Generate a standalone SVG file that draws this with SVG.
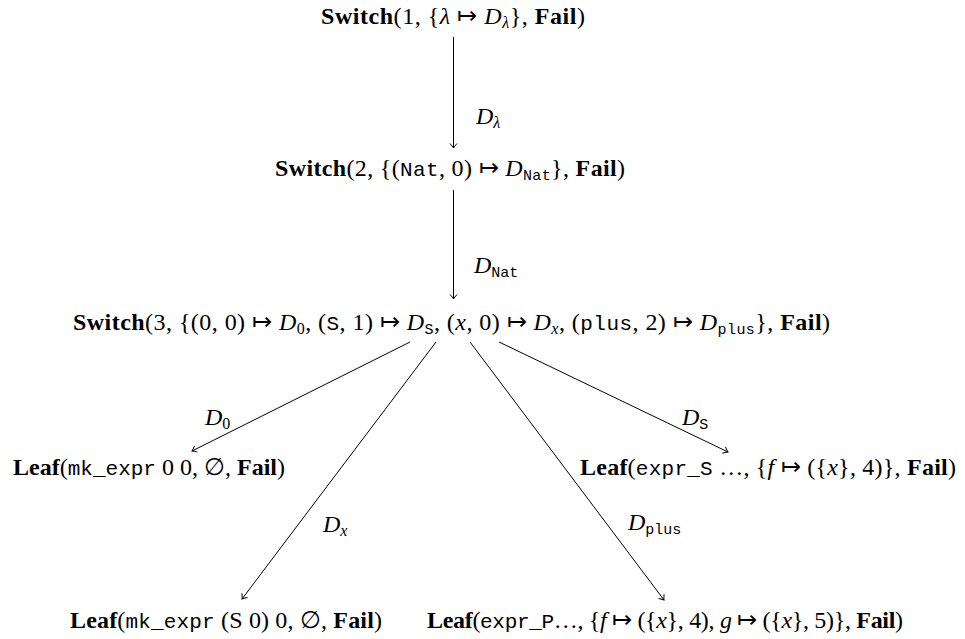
<svg xmlns="http://www.w3.org/2000/svg" width="965" height="639" viewBox="0 0 965 639">
<defs>
<style>
.t{font-family:"Liberation Serif","Times New Roman",serif;font-size:24px;fill:#000}
.b{font-weight:bold}
.i{font-style:italic}
.m{font-family:"Liberation Mono","Courier New",monospace;font-size:21px}
.s{font-size:16px}
.m.s{font-size:15px}
.e{stroke:#000;stroke-width:1;fill:none;marker-end:url(#ah)}
</style>
<marker id="ah" markerUnits="userSpaceOnUse" markerWidth="12" markerHeight="12" viewBox="-6 -6 12 12" refX="0" refY="0" orient="auto">
<path d="M -4.5 -3.5 Q -1.5 -0.8 0 0 Q -1.5 0.8 -4.5 3.5" stroke="#000" stroke-width="1" fill="none"/>
</marker>
</defs>
<rect width="965" height="639" fill="#fff"/>
<g id="connectors">
<line class="e" x1="453.5" y1="37" x2="453.5" y2="148"/>
<line class="e" x1="453.5" y1="190" x2="453.5" y2="299"/>
<line class="e" x1="410" y1="342" x2="192" y2="451"/>
<line class="e" x1="436" y1="342" x2="242" y2="599"/>
<line class="e" x1="470" y1="342" x2="664" y2="600"/>
<line class="e" x1="499" y1="342" x2="728" y2="452"/>
<text class="t" x="476" y="124"><tspan class="i">D</tspan><tspan class="i s" dy="4">λ</tspan></text>
<text class="t" x="474" y="273"><tspan class="i">D</tspan><tspan class="m s" dy="4">Nat</tspan></text>
<text class="t" x="205" y="425"><tspan class="i">D</tspan><tspan class="s" dy="4">0</tspan></text>
<text class="t" x="682" y="425"><tspan class="i">D</tspan><tspan class="m s" dy="4">S</tspan></text>
<text class="t" x="323" y="532"><tspan class="i">D</tspan><tspan class="i s" dy="4">x</tspan></text>
<text class="t" x="628" y="530"><tspan class="i">D</tspan><tspan class="m s" dy="4">plus</tspan></text>
</g>
<g id="n1">
<text class="t" x="321" y="24" textLength="264" lengthAdjust="spacing"><tspan class="b">Switch</tspan>(1, {<tspan class="i">λ</tspan> ↦ <tspan class="i">D</tspan><tspan class="i s" dy="4">λ</tspan><tspan dy="-4">}, </tspan><tspan class="b">Fail</tspan>)</text>
</g>
<g id="n2">
<text class="t" x="275" y="176" textLength="350" lengthAdjust="spacing"><tspan class="b">Switch</tspan>(2, {(<tspan class="m">Nat</tspan>, 0) ↦ <tspan class="i">D</tspan><tspan class="m s" dy="4">Nat</tspan><tspan dy="-4">}, </tspan><tspan class="b">Fail</tspan>)</text>
</g>
<g id="n3">
<text class="t" x="73" y="330" textLength="757" lengthAdjust="spacing"><tspan class="b">Switch</tspan>(3, {(0, 0) ↦ <tspan class="i">D</tspan><tspan class="s" dy="4">0</tspan><tspan dy="-4">, (</tspan><tspan class="m">S</tspan>, 1) ↦ <tspan class="i">D</tspan><tspan class="m s" dy="4">S</tspan><tspan dy="-4">, (</tspan><tspan class="i">x</tspan>, 0) ↦ <tspan class="i">D</tspan><tspan class="i s" dy="4">x</tspan><tspan dy="-4">, (</tspan><tspan class="m">plus</tspan>, 2) ↦ <tspan class="i">D</tspan><tspan class="m s" dy="4">plus</tspan><tspan dy="-4">}, </tspan><tspan class="b">Fail</tspan>)</text>
</g>
<g id="leaf1">
<text class="t" x="13" y="475" textLength="272" lengthAdjust="spacing"><tspan class="b">Leaf</tspan>(<tspan class="m">mk_expr</tspan> 0 0, ∅, <tspan class="b">Fail</tspan>)</text>
</g>
<g id="leaf2">
<text class="t" x="580" y="475" textLength="376" lengthAdjust="spacing"><tspan class="b">Leaf</tspan>(<tspan class="m">expr_S</tspan> …, {<tspan class="i">f</tspan> ↦ ({<tspan class="i">x</tspan>}, 4)}, <tspan class="b">Fail</tspan>)</text>
</g>
<g id="leaf3">
<text class="t" x="70" y="628" textLength="312" lengthAdjust="spacing"><tspan class="b">Leaf</tspan>(<tspan class="m">mk_expr</tspan> (S 0) 0, ∅, <tspan class="b">Fail</tspan>)</text>
</g>
<g id="leaf4">
<text class="t" x="427" y="628" textLength="476" lengthAdjust="spacing"><tspan class="b">Leaf</tspan>(<tspan class="m">expr_P</tspan>…, {<tspan class="i">f</tspan> ↦ ({<tspan class="i">x</tspan>}, 4), <tspan class="i">g</tspan> ↦ ({<tspan class="i">x</tspan>}, 5)}, <tspan class="b">Fail</tspan>)</text>
</g>
</svg>
